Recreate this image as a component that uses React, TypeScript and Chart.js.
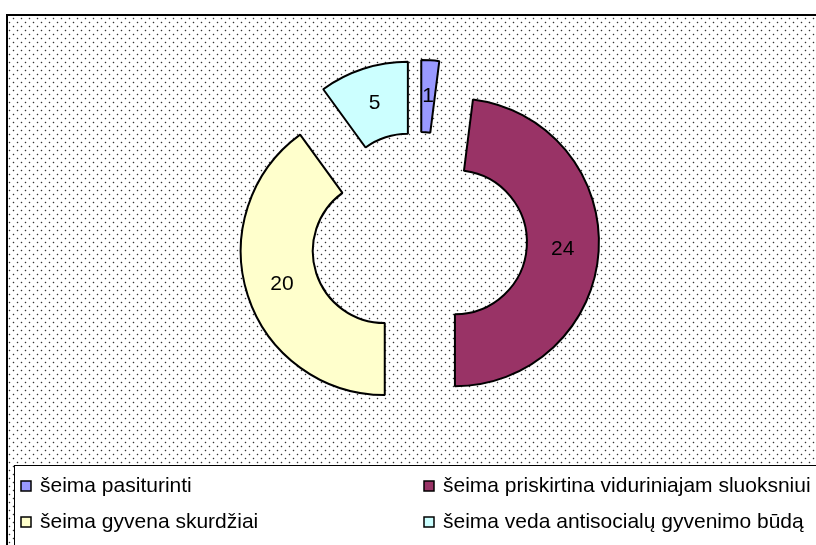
import { useEffect, useRef } from 'react';
import { Chart, registerables } from 'chart.js';

Chart.register(...registerables);

// ---- data ----
const categories = [
  'šeima pasiturinti',
  'šeima priskirtina viduriniajam sluoksniui',
  'šeima gyvena skurdžiai',
  'šeima veda antisocialų gyvenimo būdą',
];
const values = [1, 24, 20, 5];
const sliceColors = ['#9999FF', '#993366', '#FFFFCC', '#CCFFFF'];

// ---- style ----
const W = 816;
const H = 545;
const EXPLODE = 36;
const FONT = '21px "Liberation Sans", Arial, sans-serif';
const PLOT_X = 8;
const PLOT_Y = 16;
const LEGEND_X = 14.5;
const LEGEND_Y = 465.5;
const LEGEND_COLS = [21, 424];
const LEGEND_ROWS = [486, 522];

function makePattern(ctx: CanvasRenderingContext2D) {
  const c = document.createElement('canvas');
  c.width = 8;
  c.height = 8;
  const p = c.getContext('2d')!;
  p.fillStyle = '#fff';
  p.fillRect(0, 0, 8, 8);
  const dot = (x: number, y: number) => {
    p.fillStyle = '#d8d8d8';
    p.fillRect(x - 1, y, 1, 1);
    p.fillRect(x + 1, y, 1, 1);
    p.fillRect(x, y - 1, 1, 1);
    p.fillRect(x, y + 1, 1, 1);
    p.fillStyle = '#333333';
    p.fillRect(x, y, 1, 1);
  };
  dot(5, 2);
  dot(1, 6);
  return ctx.createPattern(c, 'repeat')!;
}

const backgroundPlugin = {
  id: 'bgPattern',
  beforeDraw(chart: any) {
    const ctx: CanvasRenderingContext2D = chart.ctx;
    ctx.save();
    ctx.fillStyle = '#ffffff';
    ctx.fillRect(0, 0, W, H);
    ctx.translate(PLOT_X, PLOT_Y);
    ctx.fillStyle = makePattern(ctx);
    ctx.fillRect(0, 0, W - PLOT_X, H - PLOT_Y);
    ctx.restore();
    ctx.save();
    ctx.strokeStyle = '#000';
    ctx.lineWidth = 2;
    ctx.beginPath();
    ctx.moveTo(PLOT_X - 1, H);
    ctx.lineTo(PLOT_X - 1, PLOT_Y - 1);
    ctx.lineTo(W, PLOT_Y - 1);
    ctx.stroke();
    ctx.restore();
  },
};

const explodePlugin = {
  id: 'explode',
  beforeDatasetsDraw(chart: any) {
    const ctx: CanvasRenderingContext2D = chart.ctx;
    const meta = chart.getDatasetMeta(0);
    meta.data.forEach((arc: any, i: number) => {
      const mid = (arc.startAngle + arc.endAngle) / 2;
      const dx = Math.cos(mid) * EXPLODE;
      const dy = Math.sin(mid) * EXPLODE;
      ctx.save();
      ctx.translate(dx, dy);
      arc.draw(ctx);
      ctx.restore();
      const r = EXPLODE + (arc.innerRadius + arc.outerRadius) / 2;
      ctx.save();
      ctx.fillStyle = '#000';
      ctx.font = FONT;
      ctx.textAlign = 'center';
      ctx.textBaseline = 'middle';
      ctx.fillText(String(chart.data.datasets[0].data[i]), arc.x + Math.cos(mid) * r, arc.y + Math.sin(mid) * r);
      ctx.restore();
    });
    return false;
  },
};

const legendPlugin = {
  id: 'boxLegend',
  afterDraw(chart: any) {
    const ctx: CanvasRenderingContext2D = chart.ctx;
    ctx.save();
    ctx.fillStyle = '#fff';
    ctx.strokeStyle = '#000';
    ctx.lineWidth = 1;
    ctx.fillRect(LEGEND_X, LEGEND_Y, W, H);
    ctx.strokeRect(LEGEND_X, LEGEND_Y, W + 10, H);
    const labels: string[] = chart.data.labels;
    const bg: string[] = chart.data.datasets[0].backgroundColor;
    labels.forEach((lab, i) => {
      const x = LEGEND_COLS[i % 2];
      const y = LEGEND_ROWS[Math.floor(i / 2)];
      ctx.fillStyle = bg[i];
      ctx.fillRect(x, y - 5, 10, 10);
      ctx.strokeStyle = '#000';
      ctx.lineWidth = 1.5;
      ctx.strokeRect(x, y - 5, 10, 10);
      ctx.fillStyle = '#000';
      ctx.font = FONT;
      ctx.textAlign = 'left';
      ctx.textBaseline = 'middle';
      ctx.fillText(lab, x + 19, y);
    });
    ctx.restore();
  },
};

export default function App() {
  const ref = useRef<HTMLCanvasElement>(null);
  useEffect(() => {
    if (!ref.current) return;
    const chart = new Chart(ref.current, {
      type: 'doughnut',
      data: {
        labels: categories,
        datasets: [
          {
            data: values,
            backgroundColor: sliceColors,
            borderColor: '#000',
            borderWidth: 2,
            offset: 0,
          },
        ],
      },
      options: {
        responsive: false,
        animation: false,
        events: [],
        radius: 144,
        cutout: '50%',
        layout: { padding: { left: 22, right: 0, top: 0, bottom: 65 } },
        plugins: {
          legend: { display: false },
          tooltip: { enabled: false },
        },
      } as any,
      plugins: [backgroundPlugin, explodePlugin, legendPlugin],
    });
    return () => chart.destroy();
  }, []);
  return (
    <div style={{ position: 'absolute', left: 0, top: 0, width: W, height: H }}>
      <canvas ref={ref} width={W} height={H} style={{ display: 'block' }} />
    </div>
  );
}
